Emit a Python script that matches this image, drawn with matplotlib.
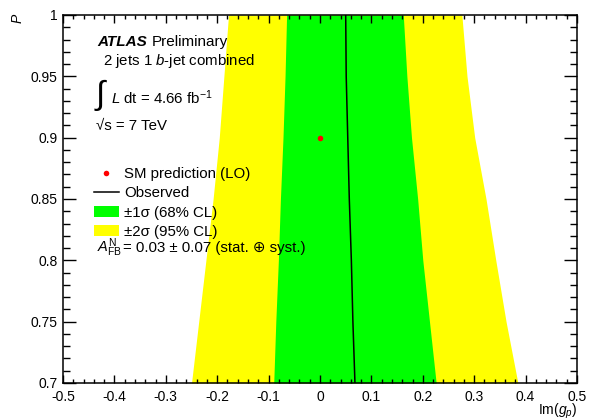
import numpy as np
import matplotlib
matplotlib.use("Agg")
import matplotlib.pyplot as plt
from matplotlib.lines import Line2D
from matplotlib.patches import Patch
from matplotlib.ticker import MultipleLocator

plt.rcParams["font.family"] = ["Liberation Sans", "DejaVu Sans"]
plt.rcParams["mathtext.fontset"] = "custom"
plt.rcParams["mathtext.rm"] = "Liberation Sans"
plt.rcParams["mathtext.it"] = "Liberation Sans:italic"
plt.rcParams["axes.unicode_minus"] = False

# band edges, per P value
P = [0.70, 0.75, 0.80, 0.85, 0.90, 0.95, 1.00]
yellow_lo = [-0.250, -0.236, -0.222, -0.208, -0.196, -0.187, -0.178]
green_lo = [-0.090, -0.086, -0.081, -0.077, -0.072, -0.068, -0.065]
observed = [0.068, 0.064, 0.061, 0.057, 0.054, 0.051, 0.050]
green_hi = [0.226, 0.213, 0.200, 0.190, 0.178, 0.169, 0.162]
yellow_hi = [0.385, 0.362, 0.342, 0.323, 0.301, 0.286, 0.276]

sm_img = [0.0]
sm_P = [0.9]

fig = plt.figure(figsize=(5.97, 4.18), dpi=100)
ax = fig.add_axes([63 / 597, 1 - 383 / 418, 514 / 597, 368 / 418])

ax.fill_betweenx(P, yellow_lo, yellow_hi, color="#ffff00", lw=0)
ax.fill_betweenx(P, green_lo, green_hi, color="#00ff00", lw=0)
ax.plot(observed, P, color="black", lw=1.1)
ax.plot(sm_img, sm_P, "o", color="red", ms=4, mec="none")

ax.set_xlim(-0.5, 0.5)
ax.set_ylim(0.7, 1.0)
ax.xaxis.set_major_locator(MultipleLocator(0.1))
ax.xaxis.set_minor_locator(MultipleLocator(0.02))
ax.yaxis.set_major_locator(MultipleLocator(0.05))
ax.yaxis.set_minor_locator(MultipleLocator(0.01))
ax.xaxis.set_major_formatter(plt.FuncFormatter(lambda v, p: ("%g" % round(v, 2))))
ax.yaxis.set_major_formatter(plt.FuncFormatter(lambda v, p: ("%g" % round(v, 2))))

ax.tick_params(axis="both", which="both", direction="in", top=True, right=True,
               labelsize=10, width=1.0)
ax.tick_params(axis="x", which="major", length=6, pad=5)
ax.tick_params(axis="x", which="minor", length=3)
ax.tick_params(axis="y", which="major", length=9.5, pad=4)
ax.tick_params(axis="y", which="minor", length=4.7)
for s in ax.spines.values():
    s.set_linewidth(1.1)

# axis titles, ROOT style
fig.text(18 / 597, 1 - 18 / 418, "$P$", rotation=90, fontsize=10,
         ha="center", va="center")
fig.text(577 / 597, 1 - 402 / 418, "Im($g_{p}$)", fontsize=10,
         ha="right", va="top")

# labels
def px(x, y):
    return x / 597, 1 - y / 418

fig.text(*px(97, 42), "ATLAS", fontsize=11, fontweight="bold", fontstyle="italic",
         va="center")
fig.text(*px(152, 42), "Preliminary", fontsize=11, va="center")
fig.text(*px(103, 61), "2 jets 1 $b$-jet combined", fontsize=10.8, va="center")
fig.text(*px(94, 95), r"$\int$", fontsize=24, va="center")
fig.text(*px(111, 98), "$L$ dt = 4.66 fb$^{-1}$", fontsize=10.8, va="center")
fig.text(*px(96, 126), "√s = 7 TeV", fontsize=10.8, va="center")

handles = [
    Line2D([], [], marker="o", color="red", ls="none", ms=4, mec="none"),
    Line2D([], [], color="black", lw=1.1),
    Patch(facecolor="#00ff00", edgecolor="none"),
    Patch(facecolor="#ffff00", edgecolor="none"),
]
labels = ["SM prediction (LO)", "Observed", "±1σ (68% CL)", "±2σ (95% CL)"]
ax.legend(handles, labels, loc="upper left",
          bbox_to_anchor=((94 - 63) / 514, (383 - 167) / 368),
          frameon=False, fontsize=10.8, borderpad=0, borderaxespad=0,
          handlelength=1.65, handleheight=0.75, handletextpad=0.35,
          labelspacing=0.36)

fig.text(*px(97, 248), r"$A_{\mathrm{FB}}^{\mathrm{N}}$", fontsize=10.5, va="center")
fig.text(*px(123, 248), "= 0.03 ± 0.07 (stat. ⊕ syst.)", fontsize=10.8, va="center")

fig.savefig("out.png", dpi=100)
